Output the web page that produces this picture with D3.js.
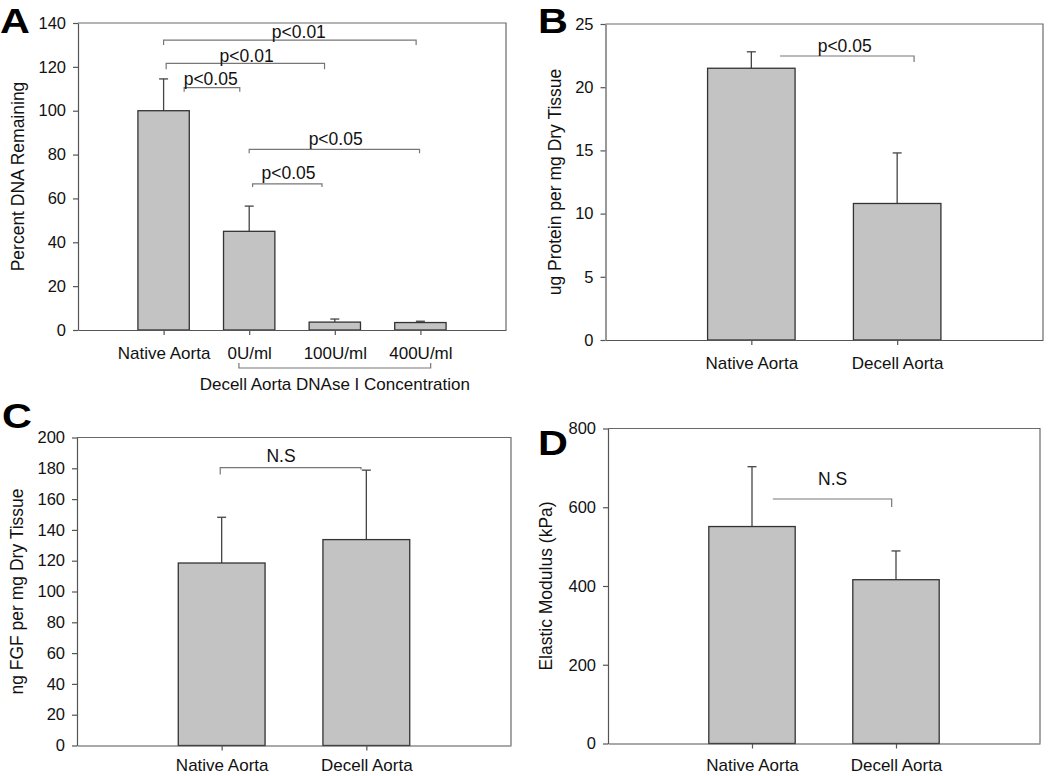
<!DOCTYPE html>
<html>
<head>
<meta charset="utf-8">
<script src="https://cdn.jsdelivr.net/npm/d3@7"></script>
<style>
  html, body { margin: 0; padding: 0; background: #fff; }
  svg { display: block; font-family: "Liberation Sans", Arial, Helvetica, sans-serif; }
</style>
</head>
<body>
<svg id="chart" width="1050" height="776"></svg>
<script>
// ---------------- DATA ----------------
const catsA = ["Native Aorta", "0U/ml", "100U/ml", "400U/ml"];
const valsA = [100, 45, 3.6, 3.4];
const errA  = [14.5, 11.5, 1.4, 0.6];
const ticksA = [0, 20, 40, 60, 80, 100, 120, 140];

const catsB = ["Native Aorta", "Decell Aorta"];
const valsB = [21.5, 10.8];
const errB  = [1.3, 4.0];
const ticksB = [0, 5, 10, 15, 20, 25];

const catsC = ["Native Aorta", "Decell Aorta"];
const valsC = [118.5, 133.7];
const errC  = [29.7, 45.1];
const ticksC = [0, 20, 40, 60, 80, 100, 120, 140, 160, 180, 200];

const catsD = ["Native Aorta", "Decell Aorta"];
const valsD = [551, 416];
const errD  = [152, 73];
const ticksD = [0, 200, 400, 600, 800];

// significance annotations (x in category units, y in data units)
const sigA = [
  { label: "p<0.01", x1: 1.00, x2: 3.95, y: 132.2, ly: 133.1, lx: 2.58, dl: 5, dr: 5 },
  { label: "p<0.01", x1: 1.03, x2: 2.88, y: 121.6, ly: 122.4, lx: 1.97, dl: 6, dr: 6 },
  { label: "p<0.05", x1: 1.24, x2: 1.89, y: 110.5, ly: 111.7, lx: 1.55, dl: 4, dr: 4 },
  { label: "p<0.05", x1: 2.00, x2: 3.99, y: 82.4,  ly: 84.4,  lx: 3.01, dl: 4, dr: 4 },
  { label: "p<0.05", x1: 2.04, x2: 2.85, y: 66.6,  ly: 68.7,  lx: 2.46, dl: 3, dr: 3 }
];
const sigB = [{ label: "p<0.05", x1: 1.197, x2: 2.116, y: 22.47, ly: 22.8, lx: 1.64, dl: 0, dr: 6 }];
const sigC = [{ label: "N.S", x1: 0.99, x2: 1.963, y: 180.5, ly: 184.4, lx: 1.41, dl: 7, dr: 2 }];
const sigD = [{ label: "N.S", x1: 1.145, x2: 1.97, y: 621, ly: 655.6, lx: 1.56, dl: 0, dr: 8 }];

const groupLabelA = "Decell Aorta DNAse I Concentration";

// ---------------- DRAW ----------------
const svg = d3.select("#chart");
const TXT = "#111";

function panel(opt) {
  const g = svg.append("g");
  const x = d3.scaleLinear().domain([0, opt.cats.length + 1]).range([opt.left, opt.right]);
  const y = d3.scaleLinear().domain([0, opt.ticks[opt.ticks.length - 1]]).range([opt.bottom, opt.top]);
  const bw = (x(1) - x(0)) * 0.6;

  // frame (top & right)
  g.append("path")
    .attr("d", `M${opt.left},${opt.top}H${opt.right}V${opt.bottom}`)
    .attr("fill", "none").attr("stroke", "#6a6a6a").attr("stroke-width", 1.2);

  // error bars (upper only)
  const eg = g.append("g").attr("stroke", "#444").attr("stroke-width", 1.3);
  opt.vals.forEach((v, i) => {
    const cx = x(i + 1);
    eg.append("line").attr("x1", cx).attr("x2", cx).attr("y1", y(v)).attr("y2", y(v + opt.err[i]));
    eg.append("line").attr("x1", cx - 4.5).attr("x2", cx + 4.5).attr("y1", y(v + opt.err[i])).attr("y2", y(v + opt.err[i]));
  });

  // bars
  g.append("g").selectAll("rect").data(opt.vals).join("rect")
    .attr("x", (d, i) => x(i + 1) - bw / 2)
    .attr("y", d => y(d))
    .attr("width", bw)
    .attr("height", d => y(0) - y(d))
    .attr("fill", "#c3c3c3")
    .attr("stroke", "#333").attr("stroke-width", 1.3);

  // axes
  const ya = g.append("g").attr("transform", `translate(${opt.left},0)`)
    .call(d3.axisLeft(y).tickValues(opt.ticks).tickSize(5).tickSizeOuter(0).tickPadding(7).tickFormat(d3.format("d")));
  const xa = g.append("g").attr("transform", `translate(0,${opt.bottom})`)
    .call(d3.axisBottom(x).tickValues(opt.cats.map((c, i) => i + 1)).tickSize(5).tickSizeOuter(0).tickPadding(opt.xPad)
      .tickFormat(d => opt.cats[d - 1]));
  [ya, xa].forEach(a => {
    a.attr("font-family", null).attr("font-size", null);
    a.select(".domain").attr("stroke", "#555").attr("stroke-width", 1.2);
    a.selectAll(".tick line").attr("stroke", "#555").attr("stroke-width", 1.2);
    a.selectAll(".tick text").attr("fill", TXT);
  });
  ya.selectAll(".tick text").style("font-size", "16.5px");
  xa.selectAll(".tick text").style("font-size", "17px");

  // y title
  g.append("text")
    .attr("transform", `translate(${opt.titleX},${(opt.top + opt.bottom) / 2}) rotate(-90)`)
    .attr("text-anchor", "middle").attr("dy", "0.35em")
    .attr("fill", TXT).style("font-size", "17.5px")
    .text(opt.title);

  // panel letter
  g.append("text").attr("x", opt.letterX).attr("y", opt.letterY)
    .attr("fill", "#000").style("font-size", "36px").style("font-weight", "bold")
    .attr("transform", `translate(${opt.letterX},0) scale(1.15,1) translate(${-opt.letterX},0)`)
    .text(opt.letter);

  // significance brackets
  const sg = g.append("g");
  opt.sig.forEach(s => {
    const x1 = x(s.x1), x2 = x(s.x2), yy = y(s.y);
    sg.append("path")
      .attr("d", `M${x1},${yy + s.dl}V${yy}H${x2}V${yy + s.dr}`)
      .attr("fill", "none").attr("stroke", "#777").attr("stroke-width", 1.2);
    sg.append("text").attr("x", x(s.lx)).attr("y", y(s.ly))
      .attr("text-anchor", "middle").attr("fill", TXT).style("font-size", "17.5px")
      .text(s.label);
  });
  return { g, x, y };
}

const pA = panel({ cats: catsA, vals: valsA, err: errA, ticks: ticksA, sig: sigA,
  left: 78, right: 506, top: 23, bottom: 330, title: "Percent DNA Remaining", titleX: 18,
  letter: "A", letterX: 0, letterY: 33.5, xPad: 12 });
panel({ cats: catsB, vals: valsB, err: errB, ticks: ticksB, sig: sigB,
  left: 605.5, right: 1043, top: 24, bottom: 340, title: "ug Protein per mg Dry Tissue", titleX: 555,
  letter: "B", letterX: 538, letterY: 33.5, xPad: 12 });
panel({ cats: catsC, vals: valsC, err: errC, ticks: ticksC, sig: sigC,
  left: 77, right: 511, top: 437.5, bottom: 745.5, title: "ng FGF per mg Dry Tissue", titleX: 17,
  letter: "C", letterX: 2, letterY: 428, xPad: 8.5 });
panel({ cats: catsD, vals: valsD, err: errD, ticks: ticksD, sig: sigD,
  left: 608, right: 1040, top: 428.5, bottom: 743.5, title: "Elastic Modulus (kPa)", titleX: 546,
  letter: "D", letterX: 538, letterY: 455, xPad: 10 });

// group bracket under panel A x-axis
{
  const x = pA.x;
  const gx1 = x(1.88), gx2 = x(4.12), gy = 368;
  pA.g.append("path").attr("d", `M${gx1},${gy - 5}V${gy}H${gx2}V${gy - 5}`)
    .attr("fill", "none").attr("stroke", "#777").attr("stroke-width", 1.2);
  pA.g.append("text").attr("x", (x(2) + x(4)) / 2).attr("y", 390)
    .attr("text-anchor", "middle").attr("fill", TXT).style("font-size", "17px")
    .text(groupLabelA);
}
</script>
</body>
</html>
